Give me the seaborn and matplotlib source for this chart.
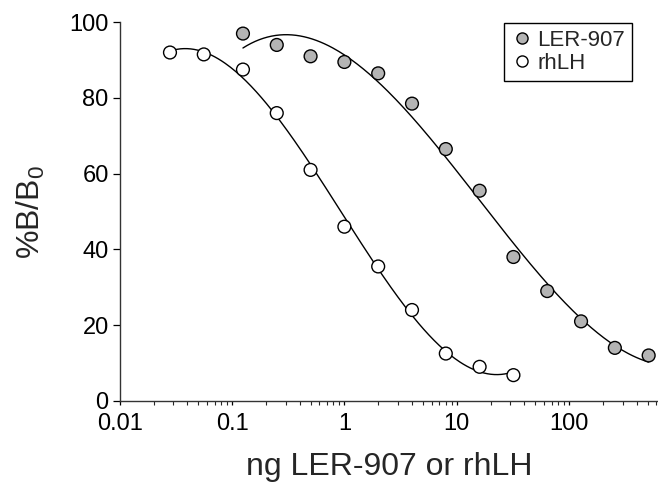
import numpy as np
import pandas as pd
import matplotlib
matplotlib.use('Agg')
import matplotlib.pyplot as plt
import seaborn as sns
from matplotlib.ticker import LogLocator, FixedLocator, NullFormatter

# dose (ng) and %B/B0
ler_dose = [0.125, 0.25, 0.5, 1, 2, 4, 8, 16, 32, 64, 128, 256, 512]
ler_bb0 = [97, 94, 91, 89.5, 86.5, 78.5, 66.5, 55.5, 38, 29, 21, 14, 12]

rhlh_dose = [0.028, 0.056, 0.125, 0.25, 0.5, 1, 2, 4, 8, 16, 32]
rhlh_bb0 = [92, 91.5, 87.5, 76, 61, 46, 35.5, 24, 12.5, 9, 6.8]

x_ticks = [0.01, 0.1, 1, 10, 100]
x_tick_labels = ['0.01', '0.1', '1', '10', '100']
y_ticks = [0, 20, 40, 60, 80, 100]

sns.set_style('ticks')
plt.rcParams['font.family'] = ['Liberation Sans', 'DejaVu Sans']
plt.rcParams['mathtext.default'] = 'regular'

df = pd.concat([
    pd.DataFrame({'dose': ler_dose, 'bb0': ler_bb0, 'series': 'LER-907'}),
    pd.DataFrame({'dose': rhlh_dose, 'bb0': rhlh_bb0, 'series': 'rhLH'}),
], ignore_index=True)

# smooth curves: cubic fit in log(dose)
curves = []
for name, d, v in [('LER-907', ler_dose, ler_bb0), ('rhLH', rhlh_dose, rhlh_bb0)]:
    lx = np.log10(d)
    coef = np.polyfit(lx, v, 3)
    grid = np.linspace(lx.min(), lx.max(), 200)
    curves.append(pd.DataFrame({'dose': 10 ** grid, 'bb0': np.polyval(coef, grid), 'series': name}))
curves = pd.concat(curves, ignore_index=True)

fig = plt.figure(figsize=(6.58, 4.83), dpi=100)
ax = fig.add_axes([0.182, 0.170, 0.818, 0.784])

sns.lineplot(data=curves, x='dose', y='bb0', units='series', estimator=None,
             color='black', linewidth=1.0, ax=ax, legend=False)
sns.scatterplot(data=df, x='dose', y='bb0', hue='series',
                palette={'LER-907': '#b4b4b4', 'rhLH': 'white'},
                edgecolor='black', linewidth=1.0, s=85, zorder=3, ax=ax)

ax.set_xscale('log')
ax.set_xlim(0.01, 620)
ax.set_ylim(0, 100)
ax.xaxis.set_major_locator(FixedLocator(x_ticks))
ax.set_xticklabels(x_tick_labels)
ax.xaxis.set_minor_locator(LogLocator(base=10, subs=np.arange(2, 10)))
ax.xaxis.set_minor_formatter(NullFormatter())
ax.set_yticks(y_ticks)

ax.tick_params(axis='both', which='major', labelsize=17, length=5, width=0.9, colors='black')
ax.tick_params(axis='x', which='minor', length=3, width=0.8)
ax.tick_params(axis='x', which='major', length=3, pad=6)
ax.tick_params(axis='y', pad=3)

for side in ['top', 'right']:
    ax.spines[side].set_visible(False)
for side in ['left', 'bottom']:
    ax.spines[side].set_linewidth(1.0)
    ax.spines[side].set_color('#333333')

ax.set_xlabel('ng LER-907 or rhLH', fontsize=23, labelpad=12)
ax.set_ylabel('%B/B$_0$', fontsize=23, labelpad=16)

handles, labels = ax.get_legend_handles_labels()
for h in handles:
    h.set_markersize(8)
ax.legend(handles, labels, loc='upper right', bbox_to_anchor=(0.960, 0.952),
          bbox_transform=fig.transFigure, borderaxespad=0, fontsize=16,
          frameon=True, fancybox=False, edgecolor='black', framealpha=1,
          handletextpad=0.2, borderpad=0.3, labelspacing=0.1, handlelength=1.0)

fig.savefig('out.png', dpi=100)
